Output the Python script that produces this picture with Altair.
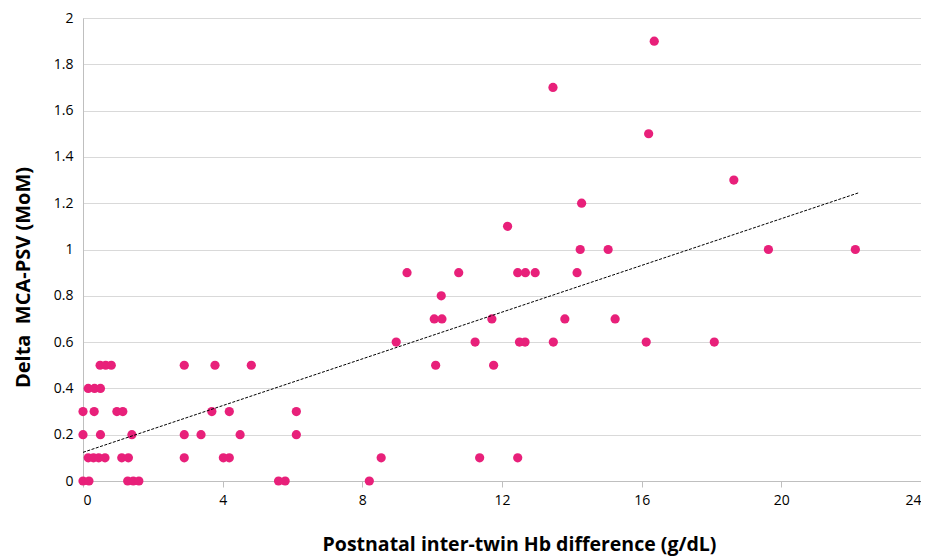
import altair as alt
import pandas as pd

hb_diff = [
    # y = 0
    0.0, 0.17, 1.28, 1.44, 1.6, 5.6, 5.79, 8.2,
    # y = 0.1
    0.15, 0.3, 0.45, 0.63, 1.11, 1.3, 2.9, 4.02, 4.19, 8.54, 11.36, 12.45,
    # y = 0.2
    0.0, 0.5, 1.4, 2.9, 3.38, 4.5, 6.11,
    # y = 0.3
    0.0, 0.32, 0.97, 1.14, 3.69, 4.19, 6.11,
    # y = 0.4
    0.15, 0.33, 0.5,
    # y = 0.5
    0.49, 0.65, 0.81, 2.9, 3.78, 4.82, 10.1, 11.76,
    # y = 0.6
    8.97, 11.23, 12.5, 12.66, 13.47, 16.13, 18.08,
    # y = 0.7
    10.06, 10.28, 11.71, 13.8, 15.24,
    # y = 0.8
    10.26,
    # y = 0.9
    9.28, 10.76, 12.45, 12.67, 12.95, 14.15,
    # y = 1.0
    14.24, 15.04, 19.63, 22.12,
    # y > 1
    12.16, 14.28, 18.64, 16.2, 13.46, 16.36,
]
mca_psv = (
    [0.0] * 8
    + [0.1] * 12
    + [0.2] * 7
    + [0.3] * 7
    + [0.4] * 3
    + [0.5] * 8
    + [0.6] * 7
    + [0.7] * 5
    + [0.8] * 1
    + [0.9] * 6
    + [1.0] * 4
    + [1.1, 1.2, 1.3, 1.5, 1.7, 1.9]
)

x_ticks = [0, 4, 8, 12, 16, 20, 24]
y_ticks = [0, 0.2, 0.4, 0.6, 0.8, 1, 1.2, 1.4, 1.6, 1.8, 2]

df = pd.DataFrame({"hb": hb_diff, "psv": mca_psv})

FONT = "Open Sans"

x_enc = alt.X(
    "hb:Q",
    title="Postnatal inter-twin Hb difference (g/dL)",
    scale=alt.Scale(domain=[0, 24], nice=False),
    axis=alt.Axis(
        values=x_ticks,
        grid=False,
        tickSize=6,
        tickColor="#BFBFBF",
        domainColor="#BFBFBF",
        labelFontSize=14,
        labelPadding=6,
        titleFontSize=19.5,
        titleFontWeight="bold",
        titlePadding=28,
        titleX=436,
        labelFont=FONT,
        titleFont=FONT,
        labelColor="#000000",
        titleColor="#000000",
    ),
)
y_enc = alt.Y(
    "psv:Q",
    title="Delta\u00a0 MCA-PSV (MoM)",
    scale=alt.Scale(domain=[0, 2], nice=False),
    axis=alt.Axis(
        values=y_ticks,
        format="~g",
        grid=True,
        gridColor="#D9D9D9",
        ticks=False,
        domainColor="#BFBFBF",
        labelFontSize=14,
        labelPadding=10,
        titleFontSize=20,
        titleFontWeight="bold",
        titleX=-50,
        titleY=259,
        labelFont=FONT,
        titleFont=FONT,
        labelColor="#000000",
        titleColor="#000000",
    ),
)

points = alt.Chart(df).mark_circle(size=85, color="#E8207A", opacity=1).encode(
    x=x_enc, y=y_enc
)

trend = (
    alt.Chart(df)
    .transform_regression("hb", "psv", extent=[0, 22.2])
    .mark_line(color="#000000", strokeDash=[3, 1.5], strokeWidth=1)
    .encode(x="hb:Q", y="psv:Q")
)

chart = (
    alt.layer(points, trend)
    .properties(
        width=838,
        height=463,
        autosize=alt.AutoSizeParams(type="none"),
        padding={"left": 75, "top": 10, "right": 0, "bottom": 77},
    )
    .configure_view(stroke=None)
    .configure(background="#FFFFFF")
)

chart.save("out.html", embed_options={"renderer": "svg", "actions": False})
